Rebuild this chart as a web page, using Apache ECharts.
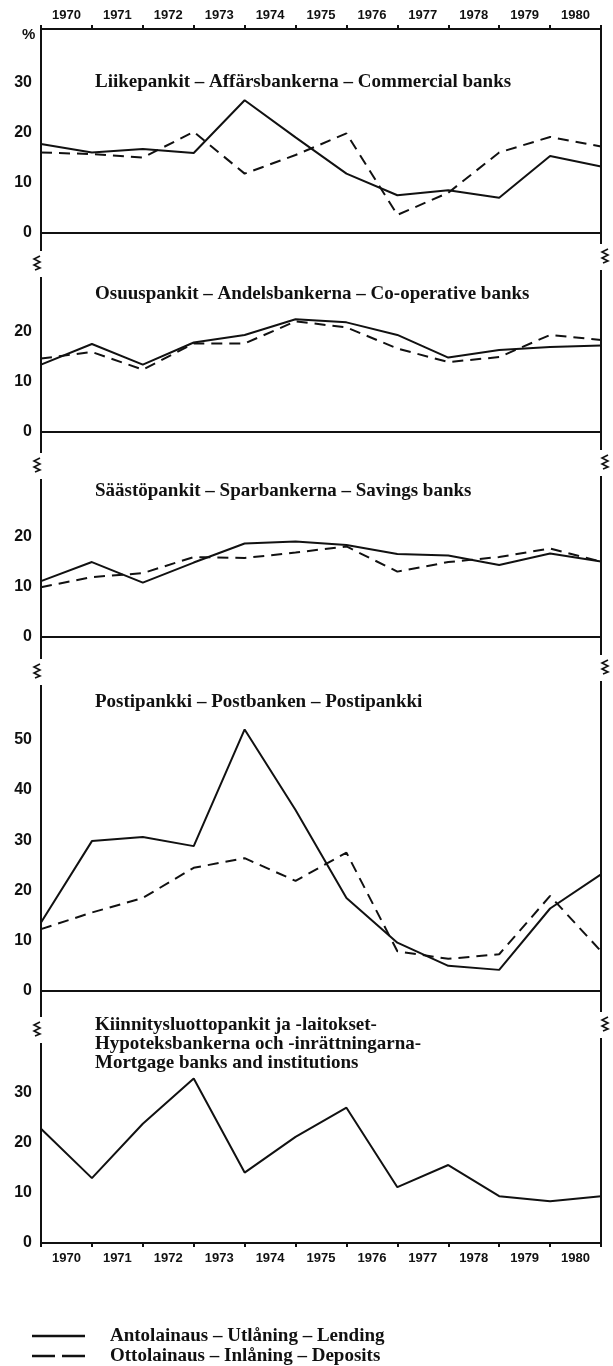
<!DOCTYPE html>
<html>
<head>
<meta charset="utf-8">
<script src="https://cdn.jsdelivr.net/npm/echarts@6/dist/echarts.min.js"></script>
<style>
  html, body { margin: 0; padding: 0; background: #fff; }
  #chart { width: 613px; height: 1366px; }
</style>
</head>
<body>
<div id="chart"></div>
<script>
// Year labels sit between the tick marks; the curves turn at the 12 year boundaries.
const years = ['1970', '1971', '1972', '1973', '1974', '1975', '1976', '1977', '1978', '1979', '1980'];

// Annual change, %
const commercialLending  = [17.7, 16.0, 16.7, 15.9, 26.4, 19.0, 11.8, 7.5, 8.5, 7.0, 15.3, 13.2];
const commercialDeposits = [16.0, 15.7, 15.0, 20.1, 11.8, 15.5, 19.8, 3.6, 8.0, 16.0, 19.1, 17.2];
const coopLending        = [13.4, 17.5, 13.4, 17.8, 19.3, 22.4, 21.8, 19.3, 14.8, 16.3, 16.9, 17.2];
const coopDeposits       = [14.6, 15.9, 12.4, 17.6, 17.6, 22.0, 20.8, 16.6, 13.9, 14.9, 19.3, 18.3];
const savingsLending     = [11.1, 14.9, 10.8, 14.8, 18.6, 19.0, 18.3, 16.5, 16.2, 14.3, 16.6, 15.0];
const savingsDeposits    = [9.9, 11.9, 12.7, 15.9, 15.7, 16.8, 18.0, 13.0, 14.9, 15.9, 17.6, 15.0];
const postLending        = [13.6, 29.8, 30.6, 28.8, 52.0, 36.0, 18.5, 9.6, 5.0, 4.2, 16.4, 23.2];
const postDeposits       = [12.3, 15.6, 18.5, 24.5, 26.4, 21.9, 27.5, 7.9, 6.4, 7.3, 18.9, 7.9];
const mortgageLending    = [22.7, 12.9, 23.7, 32.7, 14.0, 21.1, 26.9, 11.1, 15.5, 9.3, 8.3, 9.3];

// Highest labelled tick in each panel
const yTopLabels = [30, 20, 20, 50, 30];

const panelTitles = [
  'Liikepankit – Affärsbankerna – Commercial banks',
  'Osuuspankit – Andelsbankerna – Co-operative banks',
  'Säästöpankit – Sparbankerna – Savings banks',
  'Postipankki – Postbanken – Postipankki',
  'Kiinnitysluottopankit ja -laitokset-\nHypoteksbankerna och -inrättningarna-\nMortgage banks and institutions'
];

const LEND = 'Antolainaus – Utlåning – Lending';
const DEP = 'Ottolainaus – Inlåning – Deposits';

// ---- layout ----
const INK = '#111';
const PX_PER_UNIT = 5.03;
const PLOT_LEFT = 41, PLOT_RIGHT = 601;
const FRAME_TOP = 29;
const panelZero = [233, 432, 637, 991, 1243];   // pixel row of each zero line
const panelTop = [FRAME_TOP, 282, 480, 690, 1045];
const titleTop = [73, 285, 482, 693, 1016];
const breakLeft = [263, 465, 671, 1029];
const breakRight = [256, 462, 667, 1024];
const SERIF = 'Liberation Serif';
const SANS = 'Liberation Sans';

const panels = [
  { lend: commercialLending, dep: commercialDeposits },
  { lend: coopLending, dep: coopDeposits },
  { lend: savingsLending, dep: savingsDeposits },
  { lend: postLending, dep: postDeposits },
  { lend: mortgageLending, dep: null }
];

const lendStyle = { color: INK, width: 2 };
const depStyle = { color: INK, width: 2, type: [11, 7] };

const grids = [], xAxes = [], yAxes = [], series = [], titles = [];

panels.forEach((p, k) => {
  const height = panelZero[k] - panelTop[k];
  grids.push({
    left: PLOT_LEFT, top: panelTop[k], width: PLOT_RIGHT - PLOT_LEFT, height: height,
    containLabel: false, outerBoundsMode: 'none'
  });
  xAxes.push({
    type: 'value', gridIndex: k, min: 0, max: years.length, position: 'bottom',
    axisLine: { show: k !== 4, onZero: false, lineStyle: { color: INK, width: 2 } },
    axisTick: { show: false }, axisLabel: { show: false }, splitLine: { show: false }
  });
  const topLabel = yTopLabels[k];
  yAxes.push({
    type: 'value', gridIndex: k, min: 0, max: height / PX_PER_UNIT, interval: 10,
    axisLine: { show: false }, axisTick: { show: false }, splitLine: { show: false },
    axisLabel: {
      showMaxLabel: false, margin: 9, color: INK,
      fontFamily: SANS, fontWeight: 'bold', fontSize: 16,
      formatter: v => (v % 10 === 0 && v <= topLabel ? String(v) : '')
    }
  });
  series.push({
    type: 'line', name: LEND, xAxisIndex: k, yAxisIndex: k,
    data: p.lend.map((v, i) => [i, v]), symbol: 'none', silent: true,
    lineStyle: lendStyle
  });
  if (p.dep) {
    series.push({
      type: 'line', name: DEP, xAxisIndex: k, yAxisIndex: k,
      data: p.dep.map((v, i) => [i, v]), symbol: 'none', silent: true,
      lineStyle: depStyle
    });
  }
  titles.push({
    text: panelTitles[k], left: 95, top: titleTop[k], padding: 0,
    textStyle: { fontFamily: SERIF, fontWeight: 'bold', fontSize: 19, lineHeight: 19, color: INK }
  });
});

// Year axes along the top of the first panel and the bottom of the last one
const yearAxis = (grid, pos) => ({
  type: 'category', gridIndex: grid, position: pos, data: years, boundaryGap: true,
  axisLine: { show: true, onZero: false, lineStyle: { color: INK, width: 2 } },
  axisTick: { show: true, length: 4, lineStyle: { color: INK, width: 2 } },
  axisLabel: { color: INK, fontFamily: SANS, fontWeight: 'bold', fontSize: 13, margin: pos === 'top' ? 7 : 9 },
  splitLine: { show: false }
});
xAxes.push(yearAxis(0, 'top'));
xAxes.push(yearAxis(4, 'bottom'));

// Frame sides with axis-break marks
const graphics = [];
function side(x, breaks, dir) {
  let y0 = FRAME_TOP;
  breaks.forEach(b => {
    graphics.push({ type: 'line', shape: { x1: x, y1: y0, x2: x, y2: b - 12 }, style: { stroke: INK, lineWidth: 2 } });
    const zx = x + dir * 4;
    graphics.push({
      type: 'polyline',
      shape: { points: [[zx + 3, b - 7], [zx - 3, b - 4], [zx + 3, b - 1], [zx - 3, b + 2], [zx + 3, b + 5], [zx - 2, b + 7]] },
      style: { stroke: INK, lineWidth: 1.6, fill: null }
    });
    y0 = b + 14;
  });
  graphics.push({ type: 'line', shape: { x1: x, y1: y0, x2: x, y2: panelZero[4] }, style: { stroke: INK, lineWidth: 2 } });
}
side(PLOT_LEFT, breakLeft, -1);
side(PLOT_RIGHT, breakRight, 1);
graphics.push({
  type: 'text', left: 22, top: 27,
  style: { text: '%', fill: INK, font: 'bold 15px "Liberation Sans"' }
});

// Key for the two line styles
const keyRows = [
  { name: LEND, y: 1336, dash: null },
  { name: DEP, y: 1356, dash: [23, 7] }
];
keyRows.forEach(r => {
  graphics.push({
    type: 'line', shape: { x1: 32, y1: r.y, x2: 85, y2: r.y },
    style: { stroke: INK, lineWidth: 2.5, lineDash: r.dash }
  });
  graphics.push({
    type: 'text', x: 110, y: r.y,
    style: { text: r.name, fill: INK, font: 'bold 19px "Liberation Serif"', textVerticalAlign: 'middle', verticalAlign: 'middle' }
  });
});

const chart = echarts.init(document.getElementById('chart'), null, { renderer: 'canvas' });
chart.setOption({
  animation: false,
  backgroundColor: '#fff',
  title: titles,
  grid: grids,
  xAxis: xAxes,
  yAxis: yAxes,
  series: series,
  graphic: graphics
});
</script>
</body>
</html>
